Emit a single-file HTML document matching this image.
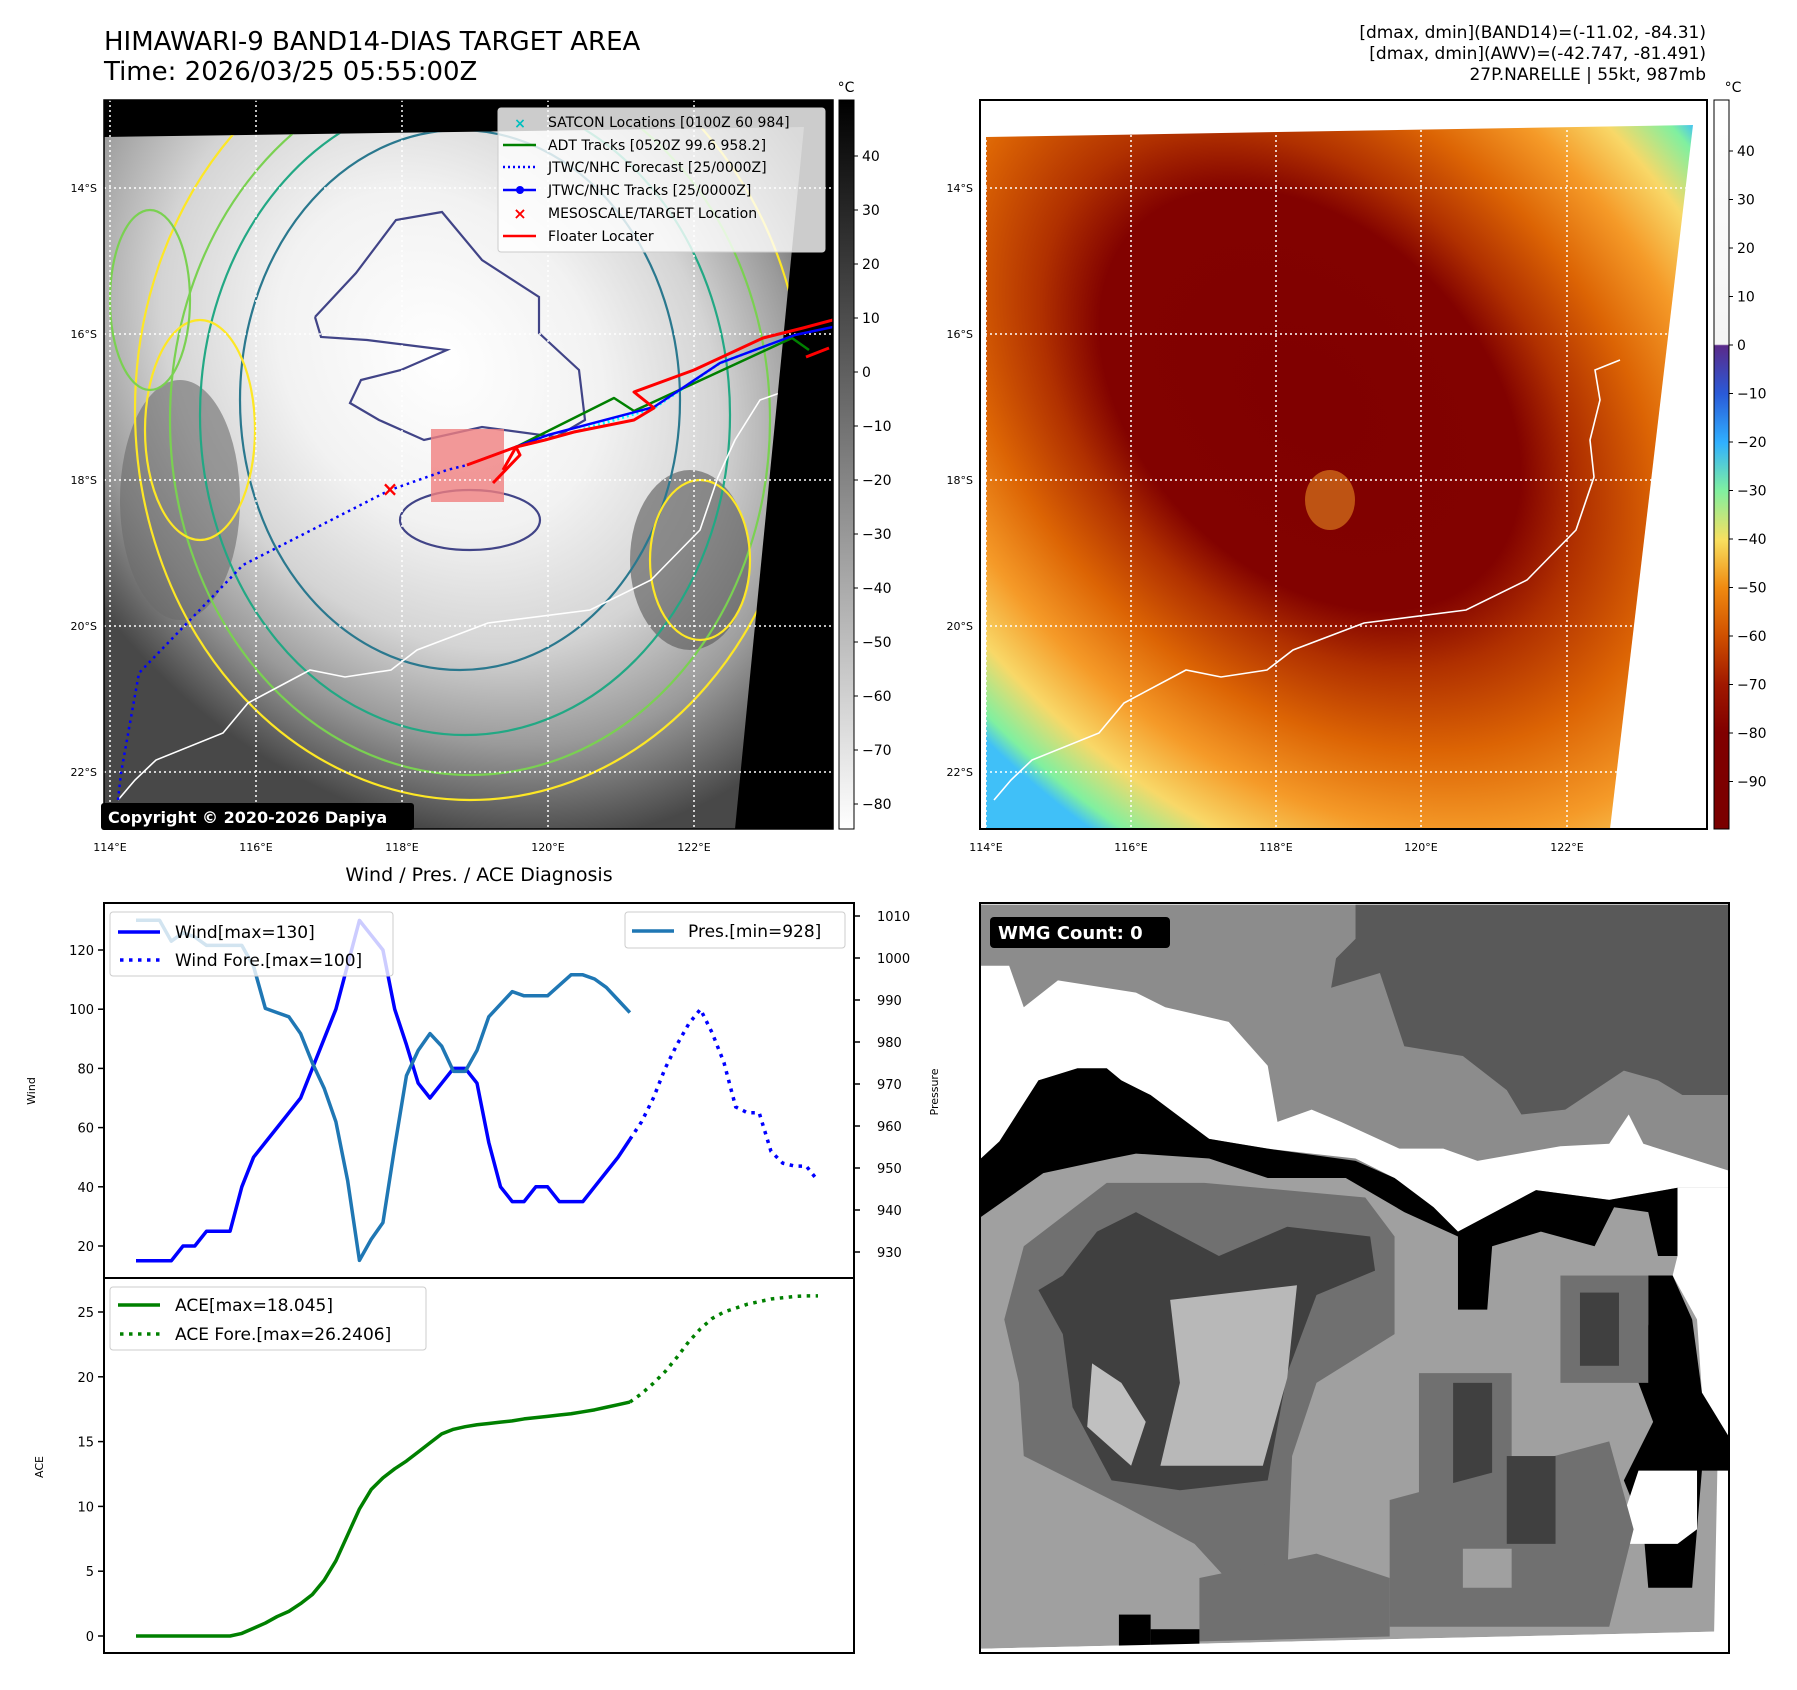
<!DOCTYPE html>
<html><head><meta charset="utf-8"><style>
body{margin:0;background:#fff;}
svg{display:block;font-family:"DejaVu Sans","Liberation Sans",sans-serif;}
</style></head><body>
<svg id="fig" width="1797" height="1690" viewBox="0 0 1797 1690" xmlns="http://www.w3.org/2000/svg">
<defs>
  <clipPath id="clipL"><rect x="104" y="100" width="729" height="729"/></clipPath>
  <clipPath id="clipLdata"><polygon points="104,137 804,127 735,829 104,829"/></clipPath>
  <clipPath id="clipR"><rect x="980" y="100" width="727" height="729"/></clipPath>
  <clipPath id="clipBR"><rect x="980" y="903" width="749" height="750"/></clipPath>
  <clipPath id="clipW"><rect x="104" y="903" width="750" height="375"/></clipPath>
  <clipPath id="clipA"><rect x="104" y="1278" width="750" height="375"/></clipPath>
  <radialGradient id="grayG" gradientUnits="userSpaceOnUse" cx="0" cy="0" r="1" gradientTransform="translate(440,360) rotate(50) scale(520,420)">
    <stop offset="0" stop-color="#ffffff"/><stop offset="0.35" stop-color="#f2f2f2"/>
    <stop offset="0.6" stop-color="#d4d4d4"/><stop offset="0.8" stop-color="#9a9a9a"/>
    <stop offset="1" stop-color="#484848"/>
  </radialGradient>
  <radialGradient id="irG" gradientUnits="userSpaceOnUse" cx="0" cy="0" r="1" gradientTransform="translate(1310,400) rotate(45) scale(680,470)">
    <stop offset="0" stop-color="#800000"/><stop offset="0.36" stop-color="#820200"/>
    <stop offset="0.46" stop-color="#b03000"/><stop offset="0.6" stop-color="#dc6404"/>
    <stop offset="0.74" stop-color="#f59a28"/><stop offset="0.86" stop-color="#f8d868"/>
    <stop offset="0.96" stop-color="#80f0a0"/><stop offset="1.08" stop-color="#40c0f8"/>
  </radialGradient>
  <linearGradient id="cbL" x1="0" y1="0" x2="0" y2="1">
    <stop offset="0" stop-color="#000"/><stop offset="1" stop-color="#fff"/>
  </linearGradient>
  <linearGradient id="cbR" x1="0" y1="0" x2="0" y2="1">
    <stop offset="0" stop-color="#ffffff"/><stop offset="0.335" stop-color="#f4f4f4"/>
    <stop offset="0.337" stop-color="#5a2a8a"/><stop offset="0.403" stop-color="#2a5ad8"/>
    <stop offset="0.47" stop-color="#30b0ff"/><stop offset="0.536" stop-color="#80f0a0"/>
    <stop offset="0.603" stop-color="#f8e060"/><stop offset="0.669" stop-color="#f08a10"/>
    <stop offset="0.735" stop-color="#d05000"/><stop offset="0.802" stop-color="#a01800"/>
    <stop offset="0.868" stop-color="#800000"/><stop offset="1" stop-color="#7a0000"/>
  </linearGradient>
</defs>

<text x="104" y="50" font-size="26">HIMAWARI-9 BAND14-DIAS TARGET AREA</text>
<text x="104" y="80" font-size="26">Time: 2026/03/25 05:55:00Z</text>
<g font-size="17" text-anchor="end">
  <text x="1706" y="38">[dmax, dmin](BAND14)=(-11.02, -84.31)</text>
  <text x="1706" y="59">[dmax, dmin](AWV)=(-42.747, -81.491)</text>
  <text x="1706" y="80">27P.NARELLE | 55kt, 987mb</text>
</g>

<g>
  <rect x="104" y="100" width="729" height="729" fill="#000"/>
  <g clip-path="url(#clipLdata)">
    <rect x="104" y="100" width="729" height="729" fill="url(#grayG)"/>
    <ellipse cx="180" cy="500" rx="60" ry="120" fill="#6a6a6a" opacity="0.6"/>
    <ellipse cx="690" cy="560" rx="60" ry="90" fill="#555" opacity="0.6"/>
    <g fill="none" stroke-width="2.2">
      <ellipse cx="470" cy="410" rx="335" ry="390" stroke="#fde725"/>
      <ellipse cx="470" cy="420" rx="300" ry="355" stroke="#7ad151"/>
      <ellipse cx="465" cy="415" rx="265" ry="320" stroke="#22a884"/>
      <ellipse cx="460" cy="400" rx="220" ry="270" stroke="#2a788e"/>
      <ellipse cx="200" cy="430" rx="55" ry="110" stroke="#fde725"/>
      <ellipse cx="700" cy="560" rx="50" ry="80" stroke="#fde725"/>
      <ellipse cx="150" cy="300" rx="40" ry="90" stroke="#7ad151"/>
      <polyline stroke="#414487" points="315,317 356,273 396,220 442,212 482,260 539,297 539,333 579,370 585,420 556,437 482,427 424,440 379,420 350,403 361,380 401,370 447,350 367,340 321,337 315,317"/>
      <ellipse cx="470" cy="520" rx="70" ry="30" stroke="#414487"/>
    </g>
    <rect x="431" y="429" width="73" height="73" fill="#f08080" opacity="0.8"/>
    <polyline fill="none" stroke="#fff" stroke-width="1.6" points="118,800 135,780 156,760 223,733 248,703 310,670 345,677 391,670 417,650 488,623 590,610 651,580 700,530 718,477 735,440 760,400 797,387 803,343 815,330"/>
    <polyline fill="none" stroke="#00ffff" stroke-width="3" stroke-dasharray="2,3" points="516,447 574,432 654,408 720,363 795,335"/>
  </g>
  <g stroke="#fff" stroke-width="1.5" stroke-dasharray="2,3" clip-path="url(#clipL)">
    <line x1="110" y1="100" x2="110" y2="829"/><line x1="256" y1="100" x2="256" y2="829"/>
    <line x1="402" y1="100" x2="402" y2="829"/><line x1="548" y1="100" x2="548" y2="829"/>
    <line x1="694" y1="100" x2="694" y2="829"/>
    <line x1="104" y1="188" x2="833" y2="188"/><line x1="104" y1="334" x2="833" y2="334"/>
    <line x1="104" y1="480" x2="833" y2="480"/><line x1="104" y1="626" x2="833" y2="626"/>
    <line x1="104" y1="772" x2="833" y2="772"/>
  </g>
  <g clip-path="url(#clipL)" fill="none" stroke-linejoin="round">
    <polyline stroke="#0000ff" stroke-width="2.5" stroke-dasharray="2.5,4" points="118,800 121,773 139,673 243,565 390,490 447,470 467,465"/>
    <polyline stroke="#008000" stroke-width="2.5" points="516,447 614,398 634,411 792,338 809,350"/>
    <polyline stroke="#0000ff" stroke-width="2.5" points="467,465 548,435 654,407 720,363 795,335 833,327"/>
    <polyline stroke="#ff0000" stroke-width="3" points="467,465 516,447 545,440 574,432 634,420 654,408 634,392 694,370 763,338 803,328 833,320"/>
    <polyline stroke="#ff0000" stroke-width="3" points="493,483 520,455 516,447 503,470"/>
    <polyline stroke="#ff0000" stroke-width="3" points="806,357 829,348"/>
  </g>
  <text x="390" y="496" font-size="20" font-weight="bold" fill="#ff0000" text-anchor="middle">×</text>
  <rect x="104" y="100" width="729" height="729" fill="none" stroke="#000" stroke-width="1.5"/>
  <rect x="101" y="803" width="313" height="27" rx="3" fill="#000"/>
  <text x="108" y="823" font-size="16" font-weight="bold" fill="#fff">Copyright © 2020-2026 Dapiya</text>
  <g>
    <rect x="498" y="108" width="327" height="144" rx="3" fill="#fff" fill-opacity="0.8" stroke="#ccc"/>
    <g font-size="14">
      <text x="548" y="127">SATCON Locations [0100Z 60 984]</text>
      <text x="548" y="150">ADT Tracks [0520Z 99.6 958.2]</text>
      <text x="548" y="172">JTWC/NHC Forecast [25/0000Z]</text>
      <text x="548" y="195">JTWC/NHC Tracks [25/0000Z]</text>
      <text x="548" y="218">MESOSCALE/TARGET Location</text>
      <text x="548" y="241">Floater Locater</text>
    </g>
    <text x="520" y="128" font-size="14" fill="#00bfbf" text-anchor="middle" font-weight="bold">×</text>
    <line x1="503" y1="145" x2="536" y2="145" stroke="#008000" stroke-width="2.5"/>
    <line x1="503" y1="167" x2="536" y2="167" stroke="#0000ff" stroke-width="2.5" stroke-dasharray="2,3"/>
    <line x1="503" y1="190" x2="536" y2="190" stroke="#0000ff" stroke-width="2.5"/><circle cx="520" cy="190" r="4" fill="#0000ff"/>
    <text x="520" y="219" font-size="16" fill="#ff0000" text-anchor="middle" font-weight="bold">×</text>
    <line x1="503" y1="236" x2="536" y2="236" stroke="#ff0000" stroke-width="2.5"/>
  </g>
  <g font-size="11" text-anchor="end">
    <text x="97" y="192">14°S</text><text x="97" y="338">16°S</text><text x="97" y="484">18°S</text><text x="97" y="630">20°S</text><text x="97" y="776">22°S</text>
  </g>
  <g font-size="11" text-anchor="middle">
    <text x="110" y="851">114°E</text><text x="256" y="851">116°E</text><text x="402" y="851">118°E</text><text x="548" y="851">120°E</text><text x="694" y="851">122°E</text>
  </g>
</g>
<g>
  <rect x="839" y="100" width="15" height="729" fill="url(#cbL)" stroke="#000" stroke-width="1"/>
  <text x="846" y="92" font-size="14" text-anchor="middle">°C</text>
  <g font-size="14" id="cbLticks"></g>
</g>

<g>
  <rect x="980" y="100" width="727" height="729" fill="#fff"/>
  <g clip-path="url(#clipR)">
    <polygon points="986,137 1693,125 1610,829 986,829" fill="url(#irG)"/>
    <ellipse cx="1330" cy="500" rx="25" ry="30" fill="#e88a20" opacity="0.6"/>
    <polyline fill="none" stroke="#fff" stroke-width="1.6" points="994,800 1011,780 1032,760 1099,733 1124,703 1186,670 1221,677 1267,670 1293,650 1364,623 1466,610 1527,580 1576,530 1594,477 1590,440 1600,400 1595,370 1620,360"/>
  </g>
  <g stroke="#fff" stroke-width="1.5" stroke-dasharray="2,3" clip-path="url(#clipR)">
    <line x1="986" y1="100" x2="986" y2="829"/><line x1="1131" y1="100" x2="1131" y2="829"/>
    <line x1="1276" y1="100" x2="1276" y2="829"/><line x1="1421" y1="100" x2="1421" y2="829"/>
    <line x1="1567" y1="100" x2="1567" y2="829"/>
    <line x1="980" y1="188" x2="1707" y2="188"/><line x1="980" y1="334" x2="1707" y2="334"/>
    <line x1="980" y1="480" x2="1707" y2="480"/><line x1="980" y1="626" x2="1707" y2="626"/>
    <line x1="980" y1="772" x2="1707" y2="772"/>
  </g>
  <rect x="980" y="100" width="727" height="729" fill="none" stroke="#000" stroke-width="2"/>
  <g font-size="11" text-anchor="end">
    <text x="973" y="192">14°S</text><text x="973" y="338">16°S</text><text x="973" y="484">18°S</text><text x="973" y="630">20°S</text><text x="973" y="776">22°S</text>
  </g>
  <g font-size="11" text-anchor="middle">
    <text x="986" y="851">114°E</text><text x="1131" y="851">116°E</text><text x="1276" y="851">118°E</text><text x="1421" y="851">120°E</text><text x="1567" y="851">122°E</text>
  </g>
</g>
<g>
  <rect x="1714" y="100" width="15" height="729" fill="url(#cbR)" stroke="#000" stroke-width="1"/>
  <text x="1733" y="92" font-size="14" text-anchor="middle">°C</text>
  <g font-size="14" id="cbRticks"></g>
</g>

<g>
  <rect x="980" y="903" width="749" height="750" fill="#fff"/>
  <g clip-path="url(#clipBR)"><g transform="translate(975,895) scale(0.48786)">
    <polygon fill="#a0a0a0" points="12,20 1545,20 1515,1510 12,1545"/>
    <polygon fill="#8c8c8c" points="12,20 1545,20 1545,620 1440,620 1300,640 1150,620 990,700 940,650 860,600 780,560 600,560 480,540 300,420 200,400 130,420 50,560 12,600"/>
    <polygon fill="#595959" points="780,20 1545,20 1545,410 1450,410 1400,380 1330,360 1210,440 1120,450 1090,400 1000,330 880,310 830,160 730,190 740,130 780,90"/>
    <polygon fill="#fff" points="12,145 70,145 100,230 170,175 330,200 390,230 520,260 600,350 620,465 690,440 750,465 870,520 960,520 1030,545 1200,515 1300,510 1340,450 1370,510 1545,565 1545,600 1440,600 1300,625 1150,605 990,690 940,640 860,580 780,540 600,520 480,500 300,380 200,360 130,380 50,520 12,540"/>
    <polygon fill="#000" points="12,540 50,505 130,380 210,355 270,355 300,380 360,410 480,500 600,520 780,545 860,580 940,640 990,690 1150,605 1300,625 1440,600 1440,740 1400,740 1380,650 1310,640 1270,720 1160,690 1060,720 1050,850 990,850 990,700 880,650 760,580 600,580 480,540 330,530 280,540 140,570 12,660"/>
    <polygon fill="#fff" points="1440,600 1545,600 1545,1110 1490,1020 1480,870 1430,780 1440,740"/>
    <polygon fill="#000" points="1380,780 1430,780 1470,870 1490,1020 1545,1110 1545,1180 1490,1180 1470,1420 1380,1420 1370,1300 1330,1200 1360,1140 1390,1080 1360,1000 1380,880"/>
    <polygon fill="#fff" points="1360,1180 1480,1180 1480,1300 1440,1330 1340,1330 1320,1300"/>
    <polygon fill="#707070" points="60,870 100,720 270,590 470,590 800,620 860,700 860,900 700,1000 650,1150 640,1400 560,1450 450,1330 300,1250 100,1150 90,1000"/>
    <polygon fill="#404040" points="130,810 180,780 250,690 330,650 500,740 640,680 810,700 820,770 700,820 640,980 600,1200 420,1220 280,1200 200,1050 180,900"/>
    <polygon fill="#b8b8b8" points="400,830 660,800 640,990 590,1170 380,1170 420,1000"/>
    <polygon fill="#c0c0c0" points="240,960 300,1000 350,1080 320,1170 230,1090"/>
    <rect x="1200" y="780" width="180" height="220" fill="#707070"/>
    <rect x="1240" y="815" width="80" height="150" fill="#404040"/>
    <polygon fill="#707070" points="910,980 1100,980 1100,1250 910,1250"/>
    <rect x="980" y="1000" width="80" height="220" fill="#404040"/>
    <polygon fill="#707070" points="850,1240 1300,1120 1350,1300 1300,1500 850,1500"/>
    <rect x="1090" y="1150" width="100" height="180" fill="#404040"/>
    <rect x="1000" y="1340" width="100" height="80" fill="#a0a0a0"/>
    <polygon fill="#707070" points="460,1400 700,1350 850,1400 850,1520 460,1530"/>
    <rect x="295" y="1475" width="65" height="65" fill="#000"/>
    <rect x="360" y="1505" width="100" height="35" fill="#000"/>
    <polygon fill="#fff" points="12,1545 1515,1510 1545,1510 1545,1560 12,1560"/>
  </g></g>
  <rect x="980" y="903" width="749" height="750" fill="none" stroke="#000" stroke-width="2"/>
  <rect x="990" y="917" width="180" height="31" rx="4" fill="#000"/>
  <text x="998" y="939" font-size="18" font-weight="bold" fill="#fff">WMG Count: 0</text>
</g>

<text x="479" y="881" font-size="19" text-anchor="middle">Wind / Pres. / ACE Diagnosis</text>
<g id="windChart"></g>
<g id="aceChart"></g>
<text transform="translate(35,1091) rotate(-90)" font-size="11" text-anchor="middle">Wind</text>
<text transform="translate(938,1092) rotate(-90)" font-size="11" text-anchor="middle">Pressure</text>
<text transform="translate(43,1467) rotate(-90)" font-size="11" text-anchor="middle">ACE</text>
</svg>
<script>
const windObs = [15,15,15,15,20,20,25,25,25,40,50,55,60,65,70,80,90,100,115,130,125,120,100,88,75,70,75,80,80,75,55,40,35,35,40,40,35,35,35,40,45,50,56];
const windFore = [56,62,70,80,88,95,100,92,82,67,65,65,52,48,47,47,42];
const presObs = [1009,1009,1009,1004,1006,1005,1003,1003,1003,1003,998,988,987,986,982,975,969,961,947,928,933,937,955,972,978,982,979,973,973,978,986,989,992,991,991,991,993.5,996,996,995,993,990,987];
const aceObs = [0,0,0,0,0,0,0,0,0,0.2,0.6,1.0,1.5,1.9,2.5,3.2,4.3,5.8,7.8,9.8,11.3,12.2,12.9,13.5,14.2,14.9,15.6,15.95,16.15,16.3,16.4,16.5,16.6,16.75,16.85,16.95,17.05,17.15,17.3,17.45,17.65,17.85,18.05];
const aceFore = [18.05,18.7,19.5,20.4,21.5,22.7,23.7,24.5,25.0,25.3,25.6,25.8,26.0,26.1,26.2,26.24,26.24];
const windTicks = [20,40,60,80,100,120];
const presTicks = [930,940,950,960,970,980,990,1000,1010];
const aceTicks = [0,5,10,15,20,25];
const cbLTicks = [40,30,20,10,0,-10,-20,-30,-40,-50,-60,-70,-80];
const cbRTicks = [40,30,20,10,0,-10,-20,-30,-40,-50,-60,-70,-80,-90];

const NS='http://www.w3.org/2000/svg';
function mk(tag, attrs, parent){const e=document.createElementNS(NS,tag);for(const k in attrs)e.setAttribute(k,attrs[k]);parent.appendChild(e);return e;}
const nSteps = windObs.length - 1 + windFore.length - 1;
function xS(i){return 136 + i*(818-136)/nSteps;}
function yWind(v){return 950 + (120-v)*(1246-950)/100;}
function yPres(p){return 916 + (1010-p)*(1252-916)/80;}
function yAce(v){return 1636 - v*(1636-1312)/25;}
function yCbL(v){return 372 - v*5.4;}
function yCbR(v){return 345 - v*4.85;}
const off = windObs.length-1;

const gL=document.getElementById('cbLticks');
cbLTicks.forEach(t=>{
  const l=mk('line',{x1:854,x2:858,y1:yCbL(t),y2:yCbL(t),stroke:'#000'},gL);
  
  
  const tx=mk('text',{x:862,y:yCbL(t)+5},gL); tx.textContent=String(t).replace('-','\u2212');
  
  
});
const gR=document.getElementById('cbRticks');
cbRTicks.forEach(t=>{
  const l=mk('line',{x1:1729,x2:1733,y1:yCbR(t),y2:yCbR(t),stroke:'#000'},gR);
  
  
  const tx=mk('text',{x:1737,y:yCbR(t)+5},gR); tx.textContent=String(t).replace('-','\u2212');
  
  
});

const wc=document.getElementById('windChart');
mk('rect',{x:104,y:903,width:750,height:375,fill:'#fff'},wc);
const wg=mk('g',{'clip-path':'url(#clipW)'},wc);
const wl=mk('polyline',{points:windObs.map((v,i)=>xS(i)+','+yWind(v)).join(' '),fill:'none',stroke:'#0000ff','stroke-width':3.5,'stroke-linejoin':'round'},wg);


const wf=mk('polyline',{points:windFore.map((v,i)=>xS(i+off)+','+yWind(v)).join(' '),fill:'none',stroke:'#0000ff','stroke-width':3.5,'stroke-dasharray':'3.5,5.5'},wg);


const wlg=mk('g',{},wc);


mk('rect',{x:110,y:912,width:283,height:64,rx:3,fill:'#fff','fill-opacity':0.8,stroke:'#ccc'},wlg);
mk('line',{x1:118,x2:160,y1:932,y2:932,stroke:'#0000ff','stroke-width':3.5},wlg);
mk('line',{x1:120,x2:160,y1:960,y2:960,stroke:'#0000ff','stroke-width':3.5,'stroke-dasharray':'3.5,5.5'},wlg);
let t=mk('text',{x:175,y:938,'font-size':17},wlg); t.textContent='Wind[max=130]';
t=mk('text',{x:175,y:966,'font-size':17},wlg); t.textContent='Wind Fore.[max=100]';
const pl=mk('polyline',{points:presObs.map((v,i)=>xS(i)+','+yPres(v)).join(' '),fill:'none',stroke:'#1f77b4','stroke-width':3.5,'stroke-linejoin':'round'},wg);


const plg=mk('g',{},wc);


mk('rect',{x:625,y:912,width:220,height:36,rx:3,fill:'#fff','fill-opacity':0.8,stroke:'#ccc'},plg);
mk('line',{x1:632,x2:674,y1:931,y2:931,stroke:'#1f77b4','stroke-width':3.5},plg);
t=mk('text',{x:688,y:937,'font-size':17},plg); t.textContent='Pres.[min=928]';
mk('rect',{x:104,y:903,width:750,height:375,fill:'none',stroke:'#000','stroke-width':2},wc);
windTicks.forEach(v=>{
  const y=yWind(v);
  mk('line',{x1:98,x2:104,y1:y,y2:y,stroke:'#000','stroke-width':1.5},wc);
  const tx=mk('text',{x:94,y:y+5,'font-size':13,'text-anchor':'end'},wc); tx.textContent=v;
  
  
});
presTicks.forEach(v=>{
  const y=yPres(v);
  mk('line',{x1:854,x2:860,y1:y,y2:y,stroke:'#000','stroke-width':1.5},wc);
  const tx=mk('text',{x:877,y:y+5,'font-size':13},wc); tx.textContent=v;
  
  
});

const ac=document.getElementById('aceChart');
const ag=mk('g',{'clip-path':'url(#clipA)'},ac);
const al=mk('polyline',{points:aceObs.map((v,i)=>xS(i)+','+yAce(v)).join(' '),fill:'none',stroke:'#008000','stroke-width':3.5,'stroke-linejoin':'round'},ag);


const af=mk('polyline',{points:aceFore.map((v,i)=>xS(i+off)+','+yAce(v)).join(' '),fill:'none',stroke:'#008000','stroke-width':3.5,'stroke-dasharray':'3.5,5.5'},ag);


const alg=mk('g',{},ac);


mk('rect',{x:110,y:1287,width:316,height:63,rx:3,fill:'#fff','fill-opacity':0.8,stroke:'#ccc'},alg);
mk('line',{x1:118,x2:160,y1:1305,y2:1305,stroke:'#008000','stroke-width':3.5},alg);
mk('line',{x1:120,x2:160,y1:1334,y2:1334,stroke:'#008000','stroke-width':3.5,'stroke-dasharray':'3.5,5.5'},alg);
t=mk('text',{x:175,y:1311,'font-size':17},alg); t.textContent='ACE[max=18.045]';
t=mk('text',{x:175,y:1340,'font-size':17},alg); t.textContent='ACE Fore.[max=26.2406]';
mk('rect',{x:104,y:1278,width:750,height:375,fill:'none',stroke:'#000','stroke-width':2},ac);
aceTicks.forEach(v=>{
  const y=yAce(v);
  mk('line',{x1:98,x2:104,y1:y,y2:y,stroke:'#000','stroke-width':1.5},ac);
  const tx=mk('text',{x:94,y:y+5,'font-size':13,'text-anchor':'end'},ac); tx.textContent=v;
  
  
});
</script>
</body></html>
